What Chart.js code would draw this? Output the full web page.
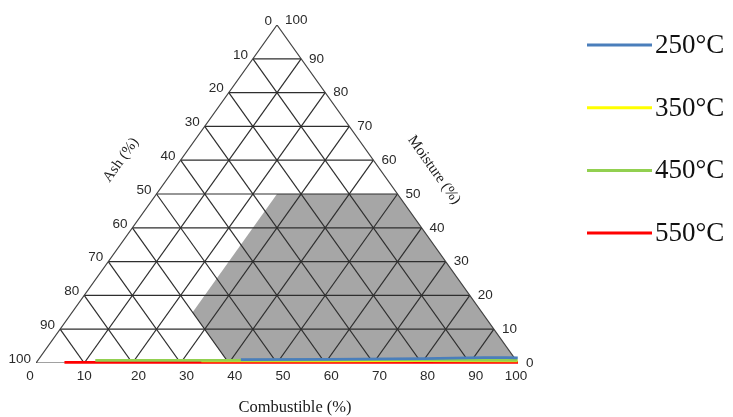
<!DOCTYPE html>
<html>
<head>
<meta charset="utf-8">
<script src="https://cdn.jsdelivr.net/npm/chart.js@4.4.1/dist/chart.umd.min.js"></script>
<style>
  html, body { margin: 0; padding: 0; background: #fff; }
</style>
</head>
<body>
<canvas id="ternaryChart" width="733" height="417"></canvas>
<script>
// Tick values on the three axes
const tickValues = [0, 10, 20, 30, 40, 50, 60, 70, 80, 90, 100];

// Tanner region (combustible >= 25, ash <= 60, moisture <= 50)
const tannerCombustible = [25, 50, 100, 40, 25, 25];
const tannerMoisture = [50, 50, 0, 0, 15, 50];

// Series, as combustible / moisture percent (ash = rest)
const temps = ['250°C', '350°C', '450°C', '550°C'];
const colors = ['#4a7ebb', '#ffff00', '#92d050', '#ff0000'];

const comb250 = [42, 60, 80, 92, 97, 99.2];
const moist250 = [1.0, 1.1, 1.3, 1.6, 1.6, 1.5];
const comb350 = [34, 60, 80, 99.6];
const moist350 = [0.6, 0.6, 0.7, 0.6];
const comb450 = [11.9, 40, 70, 99.5];
const moist450 = [0.8, 0.8, 0.9, 0.8];
const comb550 = [5.8, 40, 70, 99.9];
const moist550 = [0.2, 0.2, 0.2, 0.2];

const seriesComb = [comb250, comb350, comb450, comb550];
const seriesMoist = [moist250, moist350, moist450, moist550];

// ternary -> cartesian (both 0..100)
function toXY(c, m) {
    return { x: c + m / 2, y: m };
}

function pairs(cs, ms) {
    return cs.map((c, i) => toXY(c, ms[i]));
}

const gridColor = '#2e2e2e';
const datasets = [];

// Tanner gray area
datasets.push({
    data: pairs(tannerCombustible, tannerMoisture),
    showLine: true,
    borderWidth: 0,
    borderColor: 'rgba(0,0,0,0)',
    backgroundColor: '#a6a6a6',
    fill: 'shape',
    pointRadius: 0,
    order: 20
});

// Grid lines
tickValues.slice(1, -1).forEach(k => {
    // constant moisture
    datasets.push({ data: [toXY(0, k), toXY(100 - k, k)], showLine: true, borderColor: gridColor, borderWidth: 1.2, pointRadius: 0, order: 10 });
    // constant combustible
    datasets.push({ data: [toXY(k, 0), toXY(k, 100 - k)], showLine: true, borderColor: gridColor, borderWidth: 1.2, pointRadius: 0, order: 10 });
    // constant ash
    datasets.push({ data: [toXY(100 - k, 0), toXY(0, 100 - k)], showLine: true, borderColor: gridColor, borderWidth: 1.2, pointRadius: 0, order: 10 });
});

// Triangle outline
datasets.push({
    data: [toXY(0, 0), toXY(100, 0), toXY(0, 100), toXY(0, 0)],
    showLine: true, borderColor: '#444', borderWidth: 1.2, pointRadius: 0, order: 9
});

// Temperature series (blue on top, then green, yellow, red)
temps.forEach((t, i) => {
    datasets.push({
        label: t,
        data: pairs(seriesComb[i], seriesMoist[i]),
        showLine: true,
        borderColor: colors[i],
        backgroundColor: colors[i],
        borderWidth: 2.8,
        pointRadius: 0,
        clip: false,
        order: 1 + [0, 2, 1, 3][i]
    });
});

const labelsPlugin = {
    id: 'ternaryLabels',
    afterDraw(chart) {
        const ctx = chart.ctx;
        const xs = chart.scales.x, ys = chart.scales.y;
        const px = (c, m) => {
            const p = toXY(c, m);
            return [xs.getPixelForValue(p.x), ys.getPixelForValue(p.y)];
        };
        ctx.save();
        ctx.fillStyle = '#2a2a2a';
        ctx.font = '13.5px "Liberation Sans", Arial, sans-serif';

        // Ash labels on left edge
        ctx.textAlign = 'right';
        ctx.textBaseline = 'middle';
        tickValues.forEach(a => {
            const [x, y] = px(0, 100 - a);
            ctx.fillText(String(a), x - 5, y - 4);
        });

        // Moisture labels on right edge
        ctx.textAlign = 'left';
        tickValues.forEach(m => {
            const [x, y] = px(100 - m, m);
            ctx.fillText(String(m), x + 8, m === 100 ? y - 5 : y);
        });

        // Combustible labels at bottom
        ctx.textAlign = 'center';
        tickValues.forEach(c => {
            const [x, y] = px(c, 0);
            const off = c === 0 ? -6 : (c === 100 ? -2 : (c === 10 ? 0 : 6));
            ctx.fillText(String(c), x + off, y + 13);
        });

        // Axis titles
        ctx.fillStyle = '#1a1a1a';
        ctx.font = '15px "Liberation Serif", "Times New Roman", serif';
        const ang = Math.atan2(ys.getPixelForValue(0) - ys.getPixelForValue(100), xs.getPixelForValue(50) - xs.getPixelForValue(0));

        ctx.save();
        ctx.translate(121, 160);
        ctx.rotate(-ang);
        ctx.fillText('Ash (%)', 0, 0);
        ctx.restore();

        ctx.save();
        ctx.translate(434, 170);
        ctx.rotate(ang);
        ctx.fillText('Moisture (%)', 0, 0);
        ctx.restore();

        ctx.font = '16.5px "Liberation Serif", "Times New Roman", serif';
        ctx.fillText('Combustible (%)', 295, 408);

        // Legend
        ctx.font = '27px "Liberation Serif", "Times New Roman", serif';
        ctx.textAlign = 'left';
        temps.forEach((t, i) => {
            const y = 45 + i * 62.7;
            ctx.strokeStyle = colors[i];
            ctx.lineWidth = 3;
            ctx.beginPath();
            ctx.moveTo(587, y);
            ctx.lineTo(652, y);
            ctx.stroke();
            ctx.fillStyle = '#111';
            ctx.fillText(t, 655, y + 1);
        });
        ctx.restore();
    }
};

new Chart(document.getElementById('ternaryChart'), {
    type: 'scatter',
    data: { datasets: datasets },
    options: {
        responsive: false,
        animation: false,
        layout: { padding: { left: 36, right: 215, top: 25, bottom: 54 } },
        scales: {
            x: { type: 'linear', min: 0, max: 100, display: false },
            y: { type: 'linear', min: 0, max: 100, display: false }
        },
        plugins: {
            legend: { display: false },
            tooltip: { enabled: false }
        }
    },
    plugins: [labelsPlugin]
});
</script>
</body>
</html>
